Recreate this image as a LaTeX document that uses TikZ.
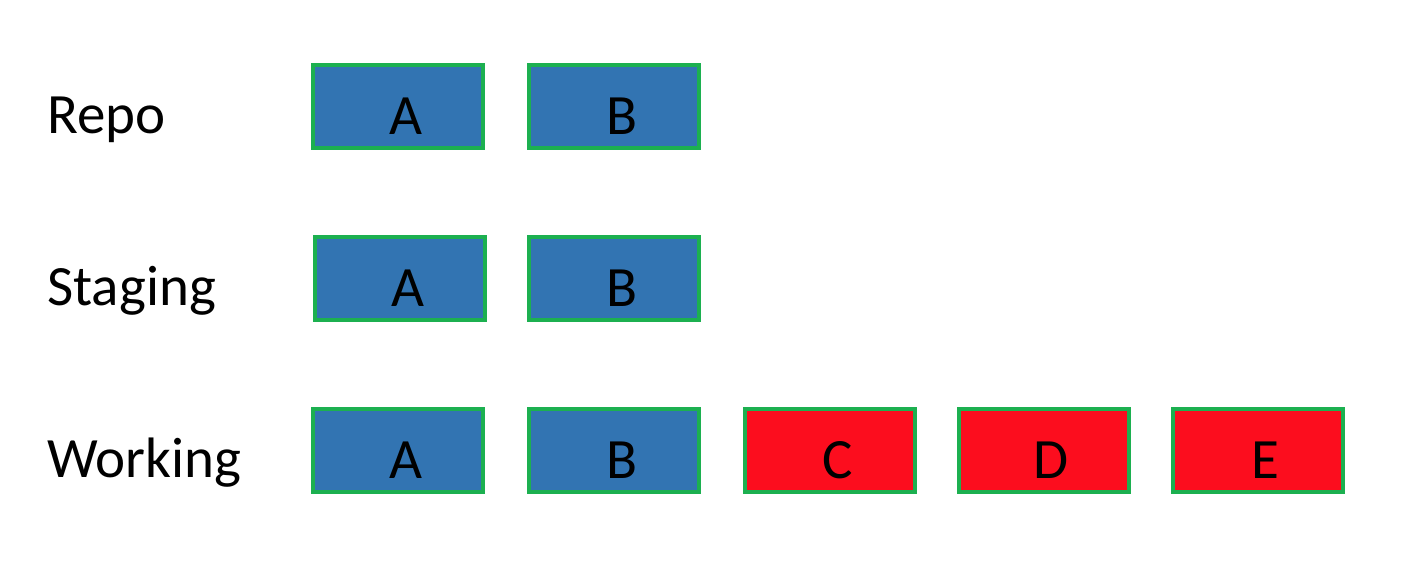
\documentclass[tikz,border=0pt]{standalone}
\usepackage{fontspec}
\setmainfont{Carlito}
\definecolor{boxblue}{RGB}{50,116,178}
\definecolor{boxred}{RGB}{252,13,30}
\definecolor{boxgreen}{RGB}{28,176,80}
\begin{document}
\begin{tikzpicture}[x=0.5pt,y=-0.5pt,
  every node/.style={font=\fontsize{28.5pt}{34pt}\selectfont},
  cell/.style={draw=boxgreen,line width=2pt,minimum width=85pt,minimum height=41.5pt,inner sep=0pt},
  bluecell/.style={cell,fill=boxblue},
  redcell/.style={cell,fill=boxred},
  lett/.style={xshift=4pt,yshift=-5pt},
  rowlabel/.style={anchor=base west,inner sep=0pt}]
\useasboundingbox (0,0) rectangle (1408,574);
\node[rowlabel] (lrepo) at (47,133) {Repo};
\node[rowlabel] (lstage) at (47,305) {Staging};
\node[rowlabel] (lwork) at (47,477) {Working};
\node[bluecell,label={[lett]center:A}] (ra) at (398,106.5) {};
\node[bluecell,label={[lett]center:B}] (rb) at (613.5,106.5) {};
\node[bluecell,label={[lett]center:A}] (sa) at (400,278.5) {};
\node[bluecell,label={[lett]center:B}] (sb) at (613.5,278.5) {};
\node[bluecell,label={[lett]center:A}] (wa) at (398,450.5) {};
\node[bluecell,label={[lett]center:B}] (wb) at (613.5,450.5) {};
\node[redcell,label={[lett]center:C}] (wc) at (829.5,450.5) {};
\node[redcell,label={[lett]center:D}] (wd) at (1043.5,450.5) {};
\node[redcell,label={[lett]center:E}] (we) at (1257.5,450.5) {};
\end{tikzpicture}
\end{document}
